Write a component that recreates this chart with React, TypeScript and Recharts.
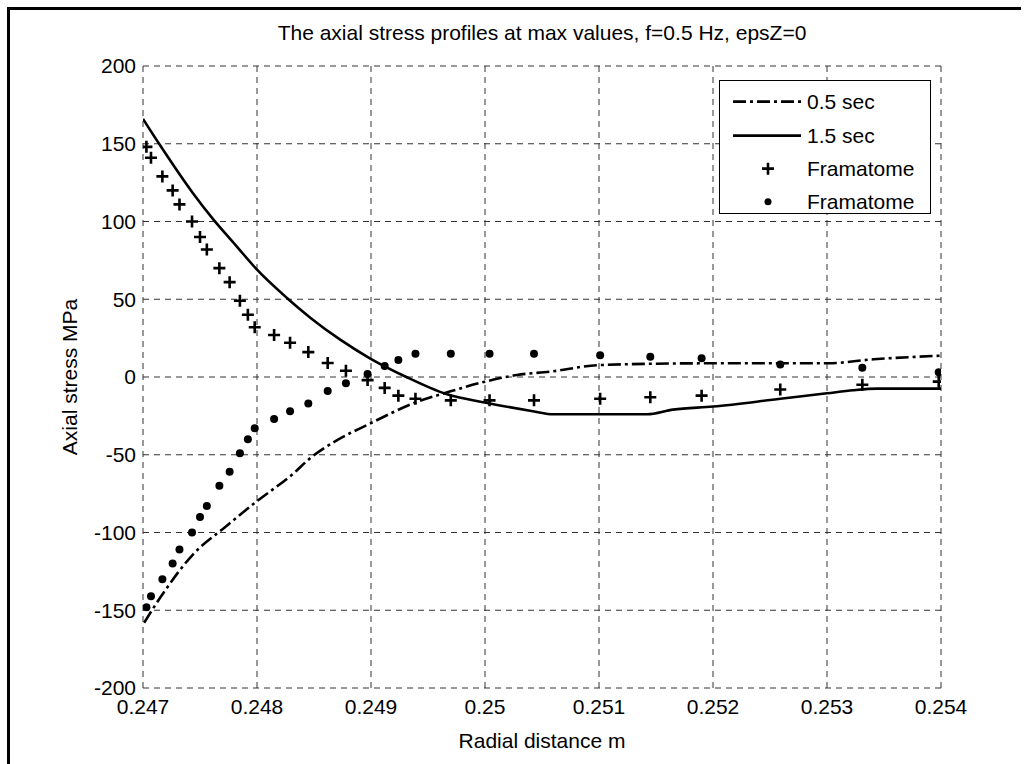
import React from "react"
import {
    ComposedChart,
    Line,
    Scatter,
    XAxis,
    YAxis,
    CartesianGrid,
    Legend
} from "recharts"

// axis ticks
const xTicks = [0.247, 0.248, 0.249, 0.25, 0.251, 0.252, 0.253, 0.254]
const yTicks = [-200, -150, -100, -50, 0, 50, 100, 150, 200]

// 0.5 sec curve (dash-dot)
const halfSecX = [0.24701, 0.24715, 0.24744, 0.24773, 0.24798, 0.24832, 0.24847, 0.24867, 0.24899, 0.24937, 0.24969, 0.25, 0.25028, 0.25057, 0.25101, 0.25194, 0.253, 0.25341, 0.254]
const halfSecY = [-158, -142, -114, -96, -81, -62, -52, -42, -30, -17, -9.4, -3, 1.3, 3.4, 7.7, 8.8, 8.8, 11.4, 13.7]

// 1.5 sec curve (solid)
const oneHalfSecX = [0.247, 0.24715, 0.24744, 0.24762, 0.24781, 0.248, 0.24826, 0.24847, 0.24873, 0.24899, 0.24931, 0.24966, 0.25004, 0.25042, 0.2506, 0.25142, 0.25165, 0.252, 0.25259, 0.253, 0.25323, 0.25344, 0.254]
const oneHalfSecY = [166, 149, 118, 101, 85, 69, 51, 38, 24, 12, 0, -11, -17, -22, -24, -24, -21, -19, -14, -10.5, -8.5, -7.5, -7.5]

// Framatome reference points
const framX = [0.24703, 0.24707, 0.24717, 0.24726, 0.24732, 0.24743, 0.2475, 0.24756, 0.24767, 0.24776, 0.24785, 0.24792, 0.24798, 0.24815, 0.24829, 0.24845, 0.24862, 0.24878, 0.24897, 0.24912, 0.24924, 0.24939, 0.2497, 0.25004, 0.25043, 0.25101, 0.25145, 0.2519, 0.25259, 0.25331, 0.25398]
const framPlusY = [148, 141, 129, 120, 111, 100, 90, 82, 70, 61, 49, 40, 32, 27, 22, 16, 9, 4, -2, -7, -12, -14, -15, -15, -15, -14, -13, -12, -8, -5, -3]
const framDotY = [-148, -141, -130, -120, -111, -100, -90, -83, -70, -61, -49, -40, -33, -27, -22, -17, -9, -4, 2, 7, 11, 15, 15, 15, 15, 14, 13, 12, 8, 6, 3]

const seriesNames = ["0.5 sec", "1.5 sec", "Framatome", "Framatome"]

const toPoints = (xs: number[], ys: number[]) => xs.map((x, i) => ({ x, y: ys[i] }))

const halfSecData = toPoints(halfSecX, halfSecY)
const oneHalfSecData = toPoints(oneHalfSecX, oneHalfSecY)
const plusData = toPoints(framX, framPlusY)
const dotData = toPoints(framX, framDotY)

const FONT = "'Liberation Sans', Arial, Helvetica, sans-serif"
const DASH_DOT = "13 4 3 4"

const PlusShape = (props: any) => {
    const { cx, cy } = props
    return (
        <path
            d={`M${cx - 6},${cy}H${cx + 6}M${cx},${cy - 6}V${cy + 6}`}
            stroke="#000"
            strokeWidth={2.6}
        />
    )
}

const DotShape = (props: any) => {
    const { cx, cy } = props
    return <circle cx={cx} cy={cy} r={4} fill="#000" />
}

const fmtX = (v: number) => String(Number(v.toFixed(3)))

function LegendBox() {
    const rowH = 33.3
    return (
        <div
            style={{
                position: "relative",
                width: 212,
                height: 134,
                border: "1px solid #000",
                background: "#fff",
                boxSizing: "border-box",
                fontFamily: FONT,
                fontSize: 21,
                color: "#000"
            }}
        >
            {seriesNames.map((name, i) => (
                <div
                    key={i}
                    style={{
                        position: "absolute",
                        left: 0,
                        top: 21 + i * rowH - rowH / 2,
                        height: rowH,
                        width: 210,
                        display: "flex",
                        alignItems: "center"
                    }}
                >
                    <svg width={87} height={rowH} style={{ flex: "none" }}>
                        {i === 0 && (
                            <line x1={13} x2={81} y1={rowH / 2} y2={rowH / 2}
                                stroke="#000" strokeWidth={2.6} strokeDasharray={DASH_DOT} />
                        )}
                        {i === 1 && (
                            <line x1={13} x2={81} y1={rowH / 2} y2={rowH / 2}
                                stroke="#000" strokeWidth={2.6} />
                        )}
                        {i === 2 && <PlusShape cx={48} cy={rowH / 2} />}
                        {i === 3 && <circle cx={48} cy={rowH / 2} r={3.5} fill="#000" />}
                    </svg>
                    <span style={{ lineHeight: 1 }}>{name}</span>
                </div>
            ))}
        </div>
    )
}

export default function App() {
    const tickStyle = { fill: "#000", fontSize: 21, fontFamily: FONT }

    return (
        <div style={{ position: "absolute", left: 0, top: 0, width: 1028, height: 764, background: "#fff" }}>
            {/* outer figure frame */}
            <div style={{ position: "absolute", left: 7, top: 7, width: 1011, height: 757, borderTop: "3px solid #000", borderLeft: "3px solid #000" }} />

            <div
                style={{
                    position: "absolute",
                    left: 143,
                    top: 20,
                    width: 798,
                    textAlign: "center",
                    fontFamily: FONT,
                    fontSize: 21,
                    lineHeight: "26px",
                    color: "#000"
                }}
            >
                The axial stress profiles at max values, f=0.5 Hz, epsZ=0
            </div>

            <div style={{ position: "absolute", left: 0, top: 0 }}>
                <ComposedChart
                    width={1028}
                    height={764}
                    margin={{ top: 66, right: 87, bottom: 0, left: 0 }}
                >
                    <CartesianGrid stroke="#333" strokeDasharray="6 5" />

                    <XAxis
                        dataKey="x"
                        type="number"
                        domain={[0.247, 0.254]}
                        ticks={xTicks}
                        tickFormatter={fmtX}
                        allowDataOverflow
                        height={76}
                        axisLine={false}
                        tickLine={false}
                        tickSize={0}
                        tickMargin={11}
                        tick={tickStyle}
                        label={{
                            value: "Radial distance m",
                            position: "insideBottom",
                            offset: 16,
                            style: { fill: "#000", fontSize: 21, fontFamily: FONT }
                        }}
                    />
                    <YAxis
                        type="number"
                        domain={[-200, 200]}
                        ticks={yTicks}
                        allowDataOverflow
                        width={143}
                        axisLine={false}
                        tickLine={false}
                        tickSize={0}
                        tickMargin={7}
                        tick={tickStyle}
                        label={{
                            value: "Axial stress MPa",
                            angle: -90,
                            position: "insideLeft",
                            offset: 70,
                            style: { fill: "#000", fontSize: 21, fontFamily: FONT, textAnchor: "middle" }
                        }}
                    />

                    {/* box with inward ticks */}
                    <XAxis xAxisId="xb" orientation="bottom" mirror type="number" domain={[0.247, 0.254]}
                        ticks={xTicks} tick={false} tickSize={8} height={0}
                        axisLine={{ stroke: "#000", strokeWidth: 1.5 }} tickLine={{ stroke: "#000", strokeWidth: 1 }} />
                    <XAxis xAxisId="xt" orientation="top" mirror type="number" domain={[0.247, 0.254]}
                        ticks={xTicks} tick={false} tickSize={8} height={0}
                        axisLine={{ stroke: "#000", strokeWidth: 1.5 }} tickLine={{ stroke: "#000", strokeWidth: 1 }} />
                    <YAxis yAxisId="yl" orientation="left" mirror type="number" domain={[-200, 200]}
                        ticks={yTicks} tick={false} tickSize={8} width={0}
                        axisLine={{ stroke: "#000", strokeWidth: 1.5 }} tickLine={{ stroke: "#000", strokeWidth: 1 }} />
                    <YAxis yAxisId="yr" orientation="right" mirror type="number" domain={[-200, 200]}
                        ticks={yTicks} tick={false} tickSize={8} width={0}
                        axisLine={{ stroke: "#000", strokeWidth: 1.5 }} tickLine={{ stroke: "#000", strokeWidth: 1 }} />

                    <Line
                        data={halfSecData}
                        dataKey="y"
                        type="monotone"
                        stroke="#000"
                        strokeWidth={2.6}
                        strokeDasharray={DASH_DOT}
                        dot={false}
                        activeDot={false}
                        isAnimationActive={false}
                    />
                    <Line
                        data={oneHalfSecData}
                        dataKey="y"
                        type="monotone"
                        stroke="#000"
                        strokeWidth={2.6}
                        dot={false}
                        activeDot={false}
                        isAnimationActive={false}
                    />
                    <Scatter data={plusData} dataKey="y" shape={PlusShape} isAnimationActive={false} />
                    <Scatter data={dotData} dataKey="y" shape={DotShape} isAnimationActive={false} />

                    <Legend
                        layout="vertical"
                        align="center"
                        verticalAlign="middle"
                        wrapperStyle={{ left: 719, top: 80, width: 212 }}
                        content={() => <LegendBox />}
                    />
                </ComposedChart>
            </div>
        </div>
    )
}
